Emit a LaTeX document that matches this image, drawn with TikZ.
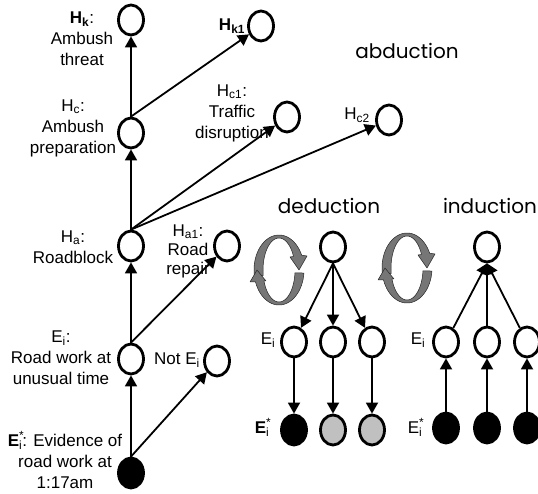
\documentclass[tikz,border=0pt]{standalone}
\usepackage{fontspec}
\setmainfont{Liberation Sans}
\newfontfamily\modefont{Poppins}
\usetikzlibrary{shapes.geometric,arrows.meta}

\definecolor{pending}{RGB}{192,192,192}
\definecolor{cyc}{RGB}{118,118,118}

% superscript and subscript stacked on one letter
\newcommand\supsub[2]{\makebox[0pt][l]{\raisebox{1pt}{\textsuperscript{#1}}}\textsubscript{#2}}

% two curved arrows chasing each other round an ellipse
\newcommand\cycleicon[2]{%
  \begin{scope}[shift={(#1,#2)}, yscale=-1]
    \filldraw[fill=cyc, draw=black!85, line width=0.5pt, line join=round]
      plot[domain=190:25, variable=\t, samples=30] ({25*cos(\t)},{35*sin(\t)})
      -- (28,14) -- (20,0) -- (11,13)
      -- plot[domain=25:190, variable=\t, samples=30] ({16*cos(\t)},{32*sin(\t)})
      -- cycle;
    \filldraw[fill=cyc, draw=black!85, line width=0.5pt, line join=round]
      plot[domain=-5:-160, variable=\t, samples=30] ({25*cos(\t)},{35*sin(\t)})
      -- (-29,-12) -- (-22,0) -- (-13,-11)
      -- plot[domain=-160:-5, variable=\t, samples=30] ({16*cos(\t)},{32*sin(\t)})
      -- cycle;
  \end{scope}}

\begin{document}
\begin{tikzpicture}[x=1pt, y=-1pt,
  hyp/.style={ellipse, draw, line width=2.8pt, minimum width=25pt,
    minimum height=30pt, inner sep=0pt},
  ev/.style={hyp, fill=black},
  pend/.style={hyp, fill=pending},
  lbl/.style={font=\fontsize{17}{21}\selectfont, align=center, inner sep=0pt},
  link/.style={line width=1.8pt, -{Triangle[length=11pt,width=12pt]}},
  mode/.style={font=\modefont\fontsize{20}{23}\selectfont, inner sep=0pt},
]
\clip (0,0) rectangle (538,494);

% --- abduction chain ---
\node[hyp] (Hk)  at (131,20)  {};
\node[hyp] (Hc)  at (131,133) {};
\node[hyp] (Ha)  at (131,246) {};
\node[hyp] (Ei)  at (131,359) {};
\node[ev]  (Es)  at (131,473) {};
\node[hyp] (Hk1) at (261,26)  {};
\node[hyp] (Hc1) at (287,117) {};
\node[hyp] (Hc2) at (389,120) {};
\node[hyp] (Ha1) at (227,246) {};
\node[hyp] (NEi) at (217,361) {};

\node[lbl] (lHk)  at (82,39)   {\textbf{H\textsubscript{k}}:\\Ambush\\threat};
\node[lbl] (lHc)  at (73,128)  {H\textsubscript{c}:\\Ambush\\preparation};
\node[lbl] (lHa)  at (73,247)  {H\textsubscript{a}:\\Roadblock};
\node[lbl] (lEi)  at (61,358)  {E\textsubscript{i}:\\Road work at\\unusual time};
\node[lbl] (lEs)  at (65,460)  {\textbf{E}\supsub{*}{i}: Evidence of\\road work at\\1:17am};
\node[lbl] (lHk1) at (232,26)  {\textbf{H\textsubscript{k1}}};
\node[lbl] (lHc1) at (232,113) {H\textsubscript{c1}:\\Traffic\\disruption};
\node[lbl] (lHc2) at (357,115) {H\textsubscript{c2}};
\node[lbl, font=\fontsize{17}{19}\selectfont] (lHa1) at (188,251) {H\textsubscript{a1}:\\Road\\repair};
\node[lbl] (lNEi) at (177,360) {Not E\textsubscript{i}};

\draw[link] (Es) -- (Ei);
\draw[link] (Ei) -- (Ha);
\draw[link] (Ha) -- (Hc);
\draw[link] (Hc) -- (Hk);
\draw[link] (Hc.north) -- (Hk1);
\draw[link] (Ha.north) -- (Hc1);
\draw[link] (Ha.north) -- (Hc2);
\draw[link] (Ei.north) -- (Ha1);
\draw[link] (Es.north) -- (NEi);

% --- mode titles ---
\node[mode] (tAb)  at (407,51)  {abduction};
\node[mode] (tDed) at (329,206) {deduction};
\node[mode] (tInd) at (490,206) {induction};

\cycleicon{279}{270}
\cycleicon{407}{268}

% --- deduction ---
\node[hyp]  (Dt)  at (333,247) {};
\node[hyp]  (D1)  at (294,342) {};
\node[hyp]  (D2)  at (333,342) {};
\node[hyp]  (D3)  at (372,342) {};
\node[ev]   (De1) at (294,430) {};
\node[pend] (De2) at (333,430) {};
\node[pend] (De3) at (372,430) {};
\node[lbl] (lD1)  at (268,340) {E\textsubscript{i}};
\node[lbl] (lDe1) at (262,427) {\textbf{E}\supsub{*}{i}};

\draw[link] (Dt.south) -- (D1);
\draw[link] (Dt.south) -- (D2);
\draw[link] (Dt.south) -- (D3);
\draw[link] (D1) -- (De1);
\draw[link] (D2) -- (De2);
\draw[link] (D3) -- (De3);

% --- induction ---
\node[hyp] (It)  at (487,247) {};
\node[hyp] (I1)  at (446,342) {};
\node[hyp] (I2)  at (487,342) {};
\node[hyp] (I3)  at (527,342) {};
\node[ev]  (Ie1) at (446,428) {};
\node[ev]  (Ie2) at (487,428) {};
\node[ev]  (Ie3) at (527,428) {};
\node[lbl] (lI1)  at (418,340) {E\textsubscript{i}};
\node[lbl] (lIe1) at (415,427) {E\supsub{*}{i}};

\draw[link] (I1) -- (It.south);
\draw[link] (I2) -- (It.south);
\draw[link] (I3) -- (It.south);
\draw[link] (Ie1) -- (I1);
\draw[link] (Ie2) -- (I2);
\draw[link] (Ie3) -- (I3);
\end{tikzpicture}
\end{document}
